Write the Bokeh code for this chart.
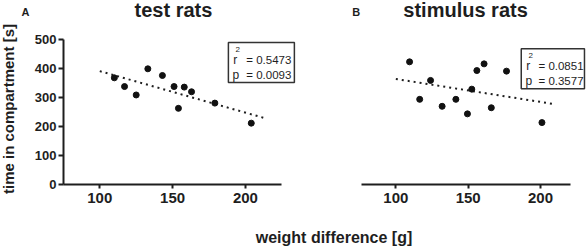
import math
from bokeh.plotting import figure
from bokeh.models import LinearAxis, FixedTicker, BoxAnnotation, Range1d
from bokeh.core.properties import value
from bokeh.layouts import row, column
from bokeh.embed import file_html
from bokeh.resources import INLINE

# ---- data ----
x_ticks = [100, 150, 200]
y_ticks = [0, 100, 200, 300, 400, 500]

test_x = [110, 117, 125, 133, 143, 151, 154, 158, 163, 179, 204]
test_y = [367, 337, 308, 398, 375, 337, 262, 335, 319, 280, 211]
test_fit_x = [100, 213.5]
test_fit_y = [390, 228]
test_r2 = "0.5473"
test_p = "0.0093"

stim_x = [109.5, 116.5, 124, 132, 141.5, 149.5, 152.5, 156, 161, 166, 176.5, 201]
stim_y = [422, 293, 358, 269, 293, 243, 328, 392, 415, 264, 390, 213]
stim_fit_x = [100, 209]
stim_fit_y = [363, 277]
stim_r2 = "0.0851"
stim_p = "0.3577"

y_title = "time in compartment [s]"
x_title = "weight difference [g]"

FONT = "Liberation Sans"
INK = "#1e1e1e"
H = 214
FRAME_H = 184
Y_END = 633


def txt(p, x, y, text, size, bold=False, align="left", angle=0):
    p.text(x=[x], y=[y], text=[text], text_font=value(FONT), text_font_size=value(size),
           text_font_style=value("bold" if bold else "normal"), angle=angle,
           text_align=value(align), text_baseline=value("middle"), text_color=INK)


def base_fig(width, height, xr, yr, left=0, bottom=0):
    p = figure(width=width, height=height, x_range=Range1d(*xr),
               y_range=Range1d(*yr), output_backend="svg", toolbar_location=None,
               x_axis_location=None, y_axis_location=None,
               min_border_left=left, min_border_right=0, min_border_top=0,
               min_border_bottom=bottom)
    p.outline_line_color = None
    p.grid.grid_line_color = None
    return p


def panel(width, xr, left_border, xb, xs, ys, fx, fy, letter, letter_x, title, title_x,
          box, r2, pv, with_y):
    p = base_fig(width, H, xr, (0, Y_END), left_border, H - FRAME_H)

    xa = LinearAxis(ticker=FixedTicker(ticks=x_ticks), bounds=xb,
                    axis_line_width=2, axis_line_color=INK,
                    major_tick_line_width=2, major_tick_line_color=INK,
                    major_tick_in=0, major_tick_out=4, minor_tick_line_color=None,
                    major_label_text_font=FONT, major_label_text_font_style="bold",
                    major_label_text_font_size="15px", major_label_standoff=4,
                    major_label_text_color=INK)
    p.add_layout(xa, "below")
    if with_y:
        ya = LinearAxis(ticker=FixedTicker(ticks=y_ticks), bounds=(0, 500),
                        axis_line_width=2, axis_line_color=INK,
                        major_tick_line_width=2, major_tick_line_color=INK,
                        major_tick_in=0, major_tick_out=5, minor_tick_line_color=None,
                        major_label_text_font=FONT, major_label_text_font_style="bold",
                        major_label_text_font_size="13px", major_label_standoff=2,
                        major_label_text_color=INK)
        p.add_layout(ya, "left")

    p.line(fx, fy, line_color=INK, line_width=2, line_dash="2 4")
    p.scatter(xs, ys, size=6, fill_color="#111111", line_color="#111111")

    if letter:
        txt(p, letter_x, 594.6, letter, "11px", bold=True)
    txt(p, title_x, 602, title, "20px", bold=True, align="center")

    bl, br, bt, bb, rx, ex, y1, y2, ys2 = box
    p.add_layout(BoxAnnotation(left=bl, right=br, top=bt, bottom=bb,
                               fill_alpha=0, line_color="#333333", line_alpha=1,
                               line_width=1.5))
    txt(p, rx, y1, "r", "12px")
    txt(p, rx + 1.5, ys2, "2", "8px")
    txt(p, ex, y1, "= " + r2, "11.5px")
    txt(p, rx - 0.5, y2, "p", "12px")
    txt(p, ex, y2, "= " + pv, "11.5px")
    return p


# left strip (screen-like coordinates) with the y title and the panel letter A
pl = base_fig(30, 247, (0, 30), (247, 0))
txt(pl, 7.8, 108.5, y_title, "15px", bold=True, align="center", angle=math.pi / 2)
txt(pl, 21, 11.2, "A", "11px", bold=True)

pa = panel(270, (75.1, 237.8), 33, (75, 225), test_x, test_y, test_fit_x, test_fit_y,
           None, 0, "test rats", 150.6,
           (188.3, 233.6, 488.5, 351, 191.7, 200.6, 429.3, 375.3, 463.7), test_r2, test_p, True)
pb = panel(286, (34.1, 231.8), 0, (76, 221), stim_x, stim_y, stim_fit_x, stim_fit_y,
           "B", 69.9, "stimulus rats", 148.2,
           (186.7, 230.4, 466.8, 329.2, 190.2, 198.6, 408.7, 354.7, 443), stim_r2, stim_p, False)

pc = base_fig(556, 33, (0, 556), (33, 0))
txt(pc, 303.5, 22.5, x_title, "16px", bold=True, align="center")

layout = row(pl, column(row(pa, pb), pc))
open("out.html", "w").write(file_html(layout, INLINE))
